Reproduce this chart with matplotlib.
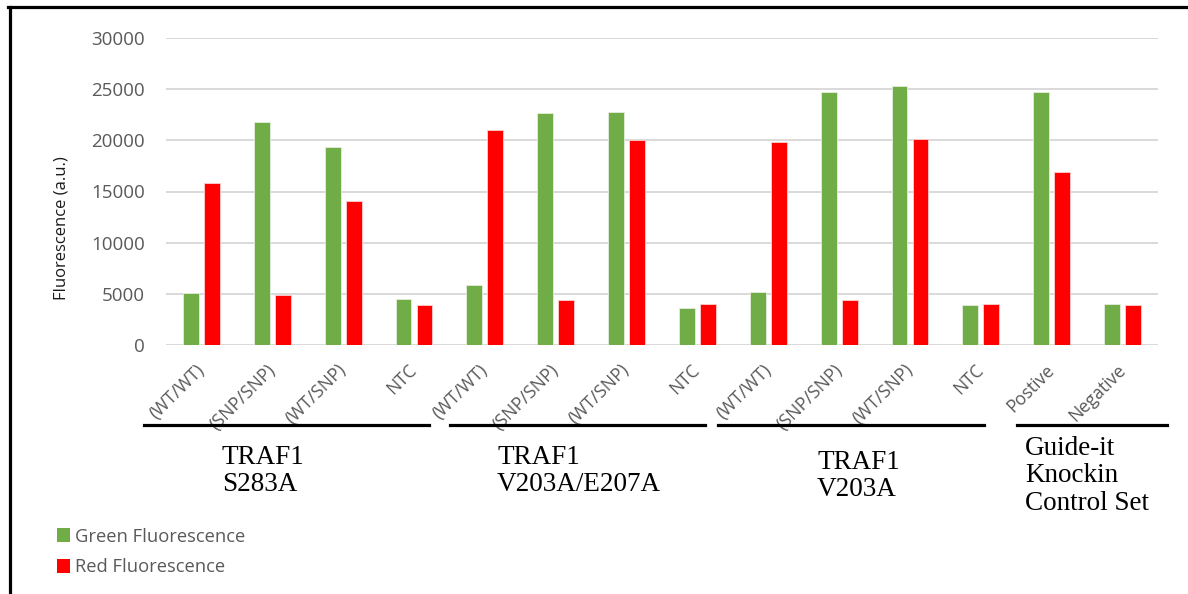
import numpy as np
import matplotlib
matplotlib.use("Agg")
import matplotlib.pyplot as plt
from matplotlib.lines import Line2D
from matplotlib.patches import Patch

plt.rcParams['font.family'] = ['Open Sans', 'DejaVu Sans']

# samples (x axis) and the two fluorescence channels
samples = ['(WT/WT)', '(SNP/SNP)', '(WT/SNP)', 'NTC',
           '(WT/WT)', '(SNP/SNP)', '(WT/SNP)', 'NTC',
           '(WT/WT)', '(SNP/SNP)', '(WT/SNP)', 'NTC',
           'Postive', 'Negative']
green = [5100, 21750, 19300, 4450,
         5900, 22700, 22800, 3600,
         5150, 24700, 25300, 3950,
         24700, 4000]
red = [15800, 4900, 14050, 3900,
       21050, 4350, 20000, 4000,
       19800, 4350, 20100, 4050,
       16950, 3950]

groups = ['TRAF1\nS283A', 'TRAF1\nV203A/E207A', 'TRAF1\nV203A',
          'Guide-it\nKnockin\nControl Set']

GREEN = '#70AD47'
RED = '#FF0000'
GREY = '#595959'

W, H = 1188, 594
fig = plt.figure(figsize=(W / 100, H / 100), dpi=100)
ax = fig.add_axes([166 / W, 1 - 345 / H, 992 / W, 307 / H])

x = np.arange(len(samples))
bw = 0.225
ax.bar(x - 0.148, green, bw, color=GREEN, edgecolor='#e6eedd', linewidth=0.6, zorder=3)
ax.bar(x + 0.148, red, bw, color=RED, edgecolor='#ffd0d0', linewidth=0.6, zorder=3)

ax.set_xlim(-0.5, len(samples) - 0.5)
ax.set_ylim(0, 30000)
ax.set_yticks(np.arange(0, 30001, 5000))
ax.yaxis.grid(True, color='#d9d9d9', linewidth=1.4, zorder=0)
for s in ax.spines.values():
    s.set_visible(False)
ax.tick_params(axis='y', length=0, pad=15, labelsize=13.5, labelcolor=GREY)
ax.set_xticks(x)
ax.set_xticklabels(samples, rotation=45, ha='right', va='center',
                   rotation_mode='anchor', fontsize=12.8, color=GREY)
ax.tick_params(axis='x', length=0, pad=16)

fig.text(61 / W, 1 - 228 / H, 'Fluorescence (a.u.)', rotation=90,
         ha='center', va='center', fontsize=12, color='#1a1a1a')

# bracket lines under each group of samples
segs = [(144, 429), (450, 705), (718, 984), (1017, 1167)]
for x0, x1 in segs:
    fig.add_artist(Line2D([x0 / W, x1 / W], [1 - 425 / H] * 2,
                          color='black', linewidth=2.3))

# group names
pos = [(222, 471), (497, 471), (817, 476), (1025, 476)]
for (gx, gy), g in zip(pos, groups):
    fig.text(gx / W, 1 - gy / H, g, ha='left', va='center',
             family='Liberation Serif', fontsize=19.5, linespacing=1.12,
             color='black')

handles = [Patch(facecolor=GREEN, edgecolor='none'),
           Patch(facecolor=RED, edgecolor='none')]
fig.legend(handles, ['Green Fluorescence', 'Red Fluorescence'],
           loc='center left', bbox_to_anchor=(40 / W, 1 - 552 / H),
           frameon=False, fontsize=13.2, labelcolor=GREY,
           handlelength=0.75, handleheight=0.75, handletextpad=0.25,
           labelspacing=0.7)

# outer frame (left and top edges)
fig.add_artist(Line2D([9.5 / W, 9.5 / W], [0, 1 - 7 / H], color='black', linewidth=2.3))
fig.add_artist(Line2D([8 / W, 1], [1 - 7 / H] * 2, color='black', linewidth=2.3))

fig.savefig('out.png', dpi=100, facecolor='white')
